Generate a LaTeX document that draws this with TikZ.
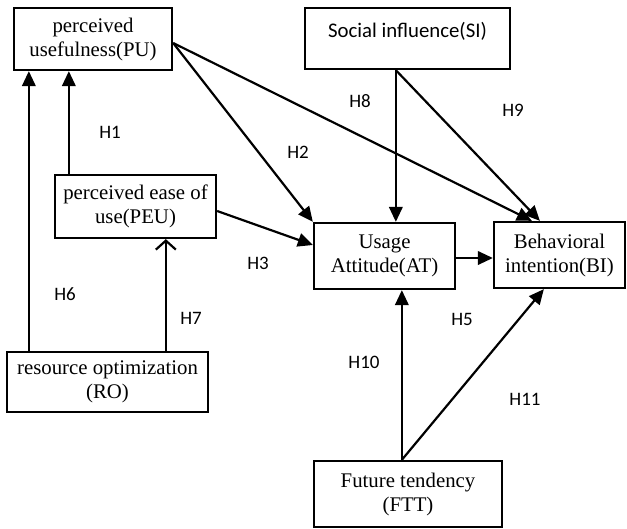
\documentclass[tikz,border=0pt]{standalone}
\usepackage{fontspec}
\setmainfont{Liberation Serif}
\newfontfamily\calib{Carlito}
\usetikzlibrary{arrows.meta}
\begin{document}
\begin{tikzpicture}[x=1pt,y=-1pt,
  box/.style={draw,line width=2.3pt,inner sep=0pt,align=center,
    font=\fontsize{20.8}{24}\selectfont},
  hlab/.style={inner sep=0pt,font=\calib\fontsize{19}{22}\selectfont},
  conn/.style={line width=2.2pt,-{Triangle[length=15pt,width=13.5pt]}},
  openconn/.style={line width=2.2pt,-{Straight Barb[length=9pt,width=20pt,line width=2.2pt]}}]
\useasboundingbox (0,0) rectangle (627,528);
% boxes
\node[box,minimum width=158pt,minimum height=62pt] (PU) at (93,39) {perceived\\usefulness(PU)};
\node[box,minimum width=205pt,minimum height=61pt,font=\calib\fontsize{20.8}{24}\selectfont,text height=14pt,text depth=17pt] (SI) at (407.5,38.5) {Social influence(SI)};
\node[box,minimum width=161pt,minimum height=63pt] (PEU) at (135.5,206.5) {perceived ease of\\use(PEU)};
\node[box,minimum width=141pt,minimum height=66pt] (AT) at (384.5,256) {Usage\\Attitude(AT)};
\node[box,minimum width=131pt,minimum height=66pt] (BI) at (559.5,255) {Behavioral\\intention(BI)};
\node[box,minimum width=201pt,minimum height=60pt] (RO) at (107.5,382) {resource optimization\\(RO)};
\node[box,minimum width=188pt,minimum height=66pt] (FTT) at (408,494) {Future tendency\\(FTT)};
% connectors
\draw[conn] ([xshift=23pt]RO.north west) -- ([xshift=23pt]RO.north west |- PU.south);
\draw[conn] ([xshift=15pt]PEU.north west) -- ([xshift=15pt]PEU.north west |- PU.south);
\draw[openconn] ([xshift=160pt]RO.north west) -- ([xshift=160pt]RO.north west |- PEU.south);
\draw[conn] ([yshift=-4pt]PU.east) -- (AT.north west);
\draw[conn] ([yshift=-4pt]PU.east) -- ([xshift=39pt]BI.north west);
\draw[conn] ([yshift=-4.5pt]PEU.east) -- ([yshift=11pt]AT.west);
\draw[conn] ([xshift=92pt]SI.south west) -- ([xshift=92pt]SI.south west |- AT.north);
\draw[conn] ([xshift=92pt]SI.south west) -- ([xshift=47pt]BI.north west);
\draw[conn] ([yshift=-2pt]AT.east) -- ([yshift=-2pt]AT.east -| BI.west);
\draw[conn] ([xshift=89pt]FTT.north west) -- ([xshift=89pt]FTT.north west |- AT.south);
\draw[conn] ([xshift=89pt]FTT.north west) -- ([xshift=51pt]BI.south west);
% labels
\node[hlab] (h1) at (110,132) {H1};
\node[hlab] (h2) at (298,152) {H2};
\node[hlab] (h3) at (258,263) {H3};
\node[hlab] (h6) at (65,294) {H6};
\node[hlab] (h7) at (191,318) {H7};
\node[hlab] (h8) at (360,101) {H8};
\node[hlab] (h9) at (513,110) {H9};
\node[hlab] (h5) at (462,319) {H5};
\node[hlab] (h10) at (364,362) {H10};
\node[hlab] (h11) at (525,399) {H11};
\end{tikzpicture}
\end{document}
